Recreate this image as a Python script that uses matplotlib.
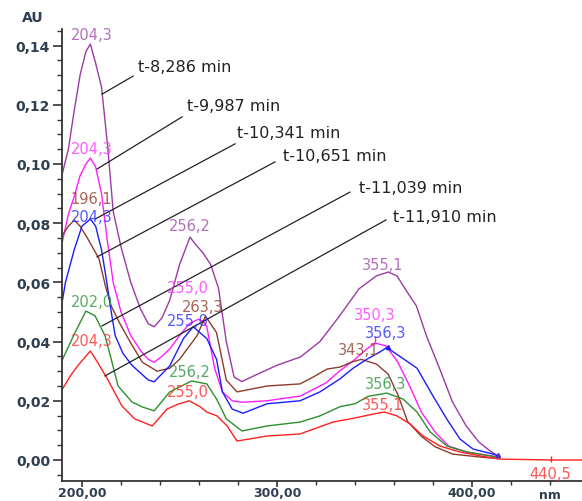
import matplotlib
matplotlib.use("Agg")
import matplotlib.pyplot as plt
import matplotlib.transforms as mtrans
from matplotlib.ticker import MultipleLocator, FixedLocator, FuncFormatter

nm_purple = [190, 193, 196, 199, 202, 204.3, 207, 210, 213, 216, 220, 225, 230, 234, 237, 241, 245, 250,
             255.4, 258, 262, 266, 270, 274, 278, 282, 290, 300, 312, 322, 332, 342, 351, 357, 361.5,
             366.7, 371.5, 376.6, 383.3, 390, 397, 403.6, 410, 413]
a_purple = [.097, .105, .118, .130, .138, .1405, .134, .126, .107, .084, .072, .060, .051, .046, .045,
            .048, .054, .066, .0753, .073, .070, .066, .058, .040, .028, .0265, .029, .032, .0348, .040,
            .0486, .0578, .0622, .0635, .0622, .0568, .052, .042, .031, .0196, .0115, .006, .0027, .0015]

nm_magenta = [190, 193, 196, 199, 202, 204.3, 207, 210, 213, 216, 220, 225, 230, 234, 237, 241, 245, 250,
              255, 259.5, 262, 264, 268, 272, 277, 282, 295, 300, 312, 325, 332, 340, 346, 350.3, 356,
              362, 368, 374, 381, 388, 397, 410, 413]
a_magenta = [.074, .083, .089, .096, .100, .102, .099, .090, .074, .060, .050, .042, .037, .034, .033,
             .035, .0375, .042, .046, .0475, .047, .045, .031, .023, .020, .0195, .020, .0205, .0216,
             .026, .030, .034, .0375, .0395, .0385, .033, .025, .0162, .0095, .0047, .0027, .0014, .001]

nm_blue = [190, 191.5, 196, 200, 204.3, 207, 210, 212, 215, 217, 221, 225.6, 234, 237, 245, 252, 257,
           264, 269, 272, 277, 282.6, 294.9, 311.8, 322, 332.3, 339, 346, 352.8, 356.3, 363, 371.8, 380,
           387, 393.8, 400.5, 410.8, 413]
a_blue = [.054, .060, .071, .079, .0814, .079, .071, .063, .050, .042, .036, .032, .027, .0264, .0318,
          .041, .045, .041, .034, .023, .0172, .0158, .019, .020, .023, .0274, .031, .034, .0365, .038,
          .035, .031, .0216, .0139, .0071, .0037, .002, .0015]

nm_brown = [190, 193, 196.1, 199, 203, 208.7, 212, 215, 219.5, 225, 231, 238.5, 245, 250, 259, 263.3,
            269, 274, 279.5, 294.9, 311.8, 318.5, 325.6, 332.3, 338, 343.1, 351, 357, 362, 367, 374,
            381, 390, 404, 413]
a_brown = [.076, .079, .081, .079, .0747, .068, .0588, .052, .046, .0395, .033, .030, .031, .034, .042,
           .0486, .043, .027, .023, .025, .0257, .028, .0307, .0314, .033, .034, .0324, .029, .022, .013,
           .008, .0045, .002, .001, .0005]

nm_green = [190, 196.4, 202, 206.7, 211.8, 215, 218.5, 225.6, 231, 237, 245, 256.2, 264, 269, 274, 282,
            294.9, 311.8, 322, 332.3, 340, 346.7, 356.3, 364.6, 371.8, 378.5, 387.2, 397.4, 409, 413]
a_green = [.034, .043, .0503, .0487, .042, .034, .025, .0196, .0179, .0166, .023, .0267, .0257, .0206,
           .0139, .0098, .0115, .0128, .0149, .018, .019, .0215, .0226, .0206, .0162, .0095, .0047,
           .0027, .0014, .001]

nm_red = [190, 194, 198, 204.3, 208, 213, 220.5, 227, 236, 243.6, 249, 255, 260.5, 264, 269.2, 274.4,
          279.5, 294.9, 311.8, 328.7, 340, 349.2, 355.1, 361.5, 368.2, 374.9, 383.6, 393.8, 404, 414.4,
          440.5, 456.5]
a_red = [.024, .0284, .032, .0368, .033, .0274, .0182, .0139, .0115, .0172, .0188, .020, .018, .0162,
         .0149, .0115, .0064, .0081, .0088, .0128, .0142, .0155, .0162, .0149, .0122, .0081, .0047,
         .0027, .0014, .0003, 0.0, 0.0]

# etiquetas de picos: (texto, x, y)
picos_purple = [("204,3", 205.1, .1439), ("256,2", 255.4, .0791), ("355,1", 354.4, .0662)]
picos_magenta = [("204,3", 205.1, .1051), ("255,0", 254.4, .0584), ("350,3", 350.3, .0490)]
picos_brown = [("196,1", 204.6, .0882), ("263,3", 262.1, .0520), ("343,1", 342.0, .0372)]
picos_blue = [("204,3", 205.1, .0824), ("255,0", 254.4, .0470), ("356,3", 355.9, .0432)]
picos_green = [("202,0", 205.1, .0534), ("256,2", 255.4, .0300), ("356,3", 355.9, .0257)]
picos_red = [("204,3", 205.1, .0402), ("255,0", 254.4, .0233), ("355,1", 354.4, .0189),
             ("440,5", 440.0, -.0047)]

# tiempos de retencion y lineas guia: (texto, punto curva, punto texto)
tiempos = ["t-8,286 min", "t-9,987 min", "t-10,341 min", "t-10,651 min", "t-11,039 min", "t-11,910 min"]
guia_ini = [(210.3, .1236), (207.7, .0983), (206.7, .0814), (207.7, .0686), (210.3, .0453), (211.8, .0284)]
guia_fin = [(226.2, .1297), (251.3, .1159), (278.5, .1068), (299.0, .1007), (337.4, .0905), (355.9, .0811)]
texto_pos = [(228.7, .1328), (253.8, .1199), (279.5, .1105), (303.1, .1027), (342.0, .0922), (359.5, .0821)]

series = [
    (nm_purple, a_purple, "#9b3aa5", "#a855b0", picos_purple),
    (nm_magenta, a_magenta, "#ff1cff", "#ff40ff", picos_magenta),
    (nm_brown, a_brown, "#8e3b2c", "#9a4a3a", picos_brown),
    (nm_blue, a_blue, "#1c1cff", "#3a3aff", picos_blue),
    (nm_green, a_green, "#2d8f2d", "#3a9a4a", picos_green),
    (nm_red, a_red, "#ff2020", "#ff3a3a", picos_red),
]

fig = plt.figure(figsize=(5.82, 5.02), dpi=100)
ax = fig.add_axes([62 / 582, 20 / 502, 520 / 582, 452 / 502])

for nm, a, color, color_txt, picos in series:
    ax.plot(nm, a, color=color, lw=1.0, solid_joinstyle="round")
    for txt, x, y in picos:
        ax.text(x, y, txt, color=color_txt, fontsize=10.5, ha="center", va="center",
                family="DejaVu Sans", alpha=0.85)

# marcas de pico pequenas
ax.plot([350.3], [.0405], marker="|", color="#ff1cff", ms=6, mew=1)
ax.plot([356.9], [.0383], marker="^", color="#1c1cff", ms=3)
ax.plot([413.5], [.0018], marker="^", color="#5a2ad0", ms=3)
ax.plot([440.5], [.0005], marker="|", color="#ff2020", ms=5, mew=1)

for t, p0, p1, pt in zip(tiempos, guia_ini, guia_fin, texto_pos):
    ax.plot([p0[0], p1[0]], [p0[1], p1[1]], color="#222222", lw=0.9)
    ax.text(pt[0], pt[1], t, fontsize=11.5, color="#222222", ha="left", va="center")

ax.set_xlim(189.74, 456.4)
ax.set_ylim(-0.0071, 0.1456)

ax.spines["top"].set_visible(False)
ax.spines["right"].set_visible(False)
for s in ("left", "bottom"):
    ax.spines[s].set_color("#333333")
    ax.spines[s].set_linewidth(1.3)

ax.yaxis.set_major_locator(MultipleLocator(0.02))
ax.yaxis.set_minor_locator(MultipleLocator(0.005))
ax.yaxis.set_major_formatter(FuncFormatter(lambda v, pos: ("%.2f" % v).replace(".", ",")))
ax.xaxis.set_major_locator(FixedLocator([200, 300, 400]))
ax.xaxis.set_minor_locator(MultipleLocator(20))
ax.xaxis.set_major_formatter(FuncFormatter(lambda v, pos: ("%.2f" % v).replace(".", ",")))

ax.tick_params(axis="y", which="major", length=6.5, width=1.2, direction="out", pad=2,
               labelsize=10, labelcolor="#2f3f4f", color="#333333")
ax.tick_params(axis="y", which="minor", length=3.5, width=1.0, direction="out", color="#333333")
ax.tick_params(axis="x", which="major", length=4, width=1.2, direction="out", pad=-0.5,
               labelsize=9, labelcolor="#2f3f4f", color="#333333")
ax.tick_params(axis="x", which="minor", length=3, width=1.0, direction="out", color="#333333")
for lab in ax.get_xticklabels() + ax.get_yticklabels():
    lab.set_fontweight("bold")

off = mtrans.offset_copy(ax.get_xaxis_transform(), fig=fig, x=0, y=-5, units="points")
ax.text(440, 0, "nm", transform=off, fontsize=9, fontweight="bold",
        color="#2f3f4f", ha="center", va="top")
fig.text(33 / 582, 1 - 18 / 502, "AU", fontsize=10, fontweight="bold", color="#2f3f4f",
         ha="center", va="center")

fig.savefig("out.png", dpi=100)
